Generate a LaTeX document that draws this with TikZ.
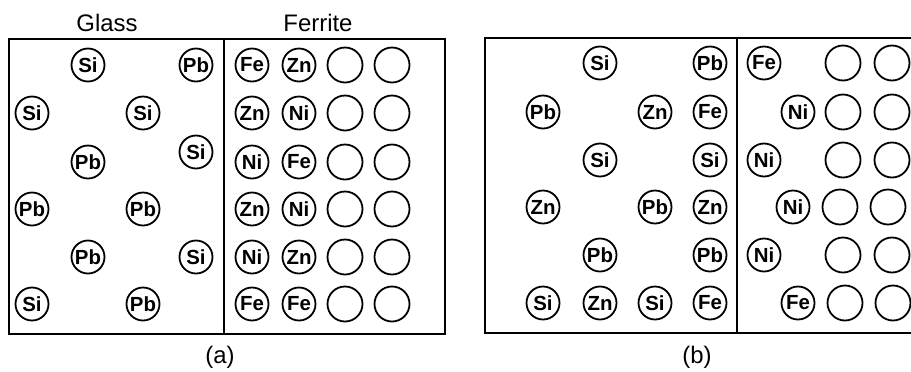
\documentclass[tikz,border=0pt]{standalone}
\usepackage{fontspec}
\setmainfont{Liberation Sans}
\usepackage{tikz}
\usetikzlibrary{positioning}

\newcommand{\atomfont}{\fontsize{20.5}{20.5}\selectfont\bfseries}
\newcommand{\panelfont}{\fontsize{24}{24}\selectfont}

\begin{document}
\begin{tikzpicture}[
  x=1bp, y=-1bp,
  atom/.style={circle, draw, line width=1.8bp, minimum size=33bp,
    inner sep=0pt, font=\atomfont},
  site/.style={atom, minimum size=35bp},
  panel/.style={font=\panelfont, inner sep=0pt},
  wall/.style={line width=1.8bp},
]
  \useasboundingbox (0,0) rectangle (911,371);
  \clip (0,0) rectangle (911,371);

  % (a) sharp interface
  \draw[wall] (9,39) rectangle (445,334);
  \draw[wall] (224,39) -- (224,334);
  \node[panel] (glassA)   at (107,23)  {Glass};
  \node[panel] (ferriteA) at (318,23)  {Ferrite};
  \node[panel] (capA)     at (220,357) {(a)};

  \foreach \x/\y/\el [count=\i] in {88/65/Si, 196/65/Pb, 32/113/Si, 143/113/Si,
      88/162/Pb, 196/152/Si, 32/209/Pb, 143/209/Pb, 88/257/Pb, 196/257/Si,
      32/304/Si, 143/304/Pb}
    \node[atom] (ga\i) at (\x,\y) {\el};

  \foreach \y/\one/\two [count=\r] in {65/Fe/Zn, 113/Zn/Ni, 162/Ni/Fe,
      209/Zn/Ni, 257/Ni/Zn, 304/Fe/Fe} {
    \node[atom] (fa\r-1) at (252,\y) {\one};
    \node[atom] (fa\r-2) at (299,\y) {\two};
    \node[site] (fa\r-3) at (345,\y) {};
    \node[site] (fa\r-4) at (392,\y) {};
  }

  % (b) after interdiffusion
  \draw[wall] (485,38) rectangle (940,333);
  \draw[wall] (737,38) -- (737,333);
  \node[panel] (capB) at (697,357) {(b)};

  \foreach \x/\y/\el [count=\i] in {600/63/Si, 710/63/Pb, 543/112/Pb, 655/112/Zn,
      710/112/Fe, 600/160/Si, 710/160/Si, 543/207/Zn, 655/207/Pb, 710/207/Zn,
      600/255/Pb, 710/255/Pb, 543/303/Si, 600/303/Zn, 655/303/Si, 710/303/Fe}
    \node[atom] (gb\i) at (\x,\y) {\el};

  \foreach \x/\y/\el [count=\i] in {764/63/Fe, 798/112/Ni, 764/160/Ni,
      793/207/Ni, 764/255/Ni, 798/303/Fe}
    \node[atom] (fb\i) at (\x,\y) {\el};

  \foreach \x/\y [count=\i] in {843/63, 892/63, 843/112, 892/112, 843/160,
      892/160, 840/207, 888/207, 843/255, 892/255, 845/303, 893/303}
    \node[site] (vb\i) at (\x,\y) {};
\end{tikzpicture}
\end{document}
